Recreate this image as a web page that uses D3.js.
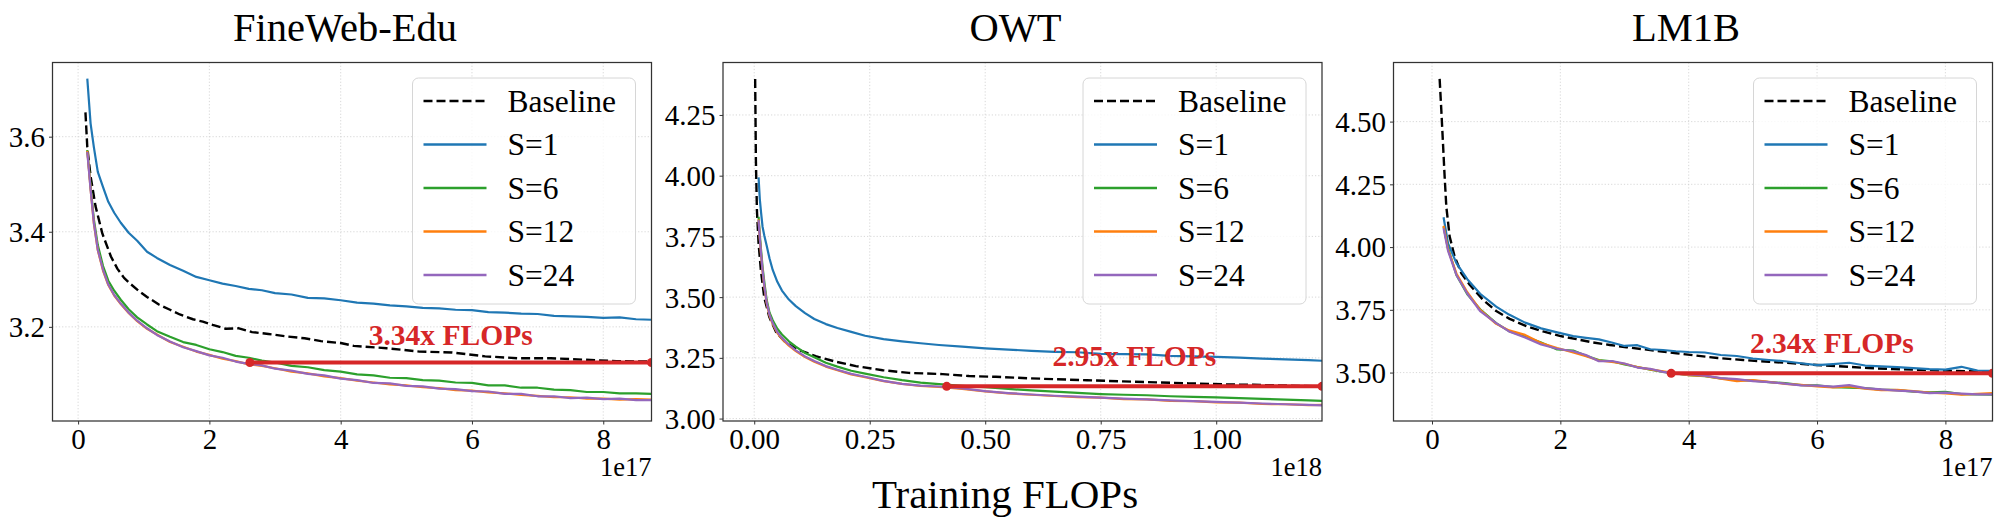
<!DOCTYPE html>
<html>
<head>
<meta charset="utf-8">
<script src="https://cdn.jsdelivr.net/npm/d3@7"></script>
<style>
  html, body { margin: 0; padding: 0; background: #fff; }
  svg { display: block; }
</style>
</head>
<body>
<svg id="chart" width="2000" height="530"></svg>
<script>
// ---------------- DATA ----------------
// FineWeb-Edu (x in units of 1e17 FLOPs)
const fwSX = [0.14,0.19,0.24,0.30,0.38,0.46,0.55,0.65,0.77,0.90,1.05,1.20,1.40,1.60,1.80,2.00,2.20,2.40,2.60,2.80,3.00,3.25,3.50,3.75,4.00,4.25,4.50,4.75,5.00,5.25,5.50,5.75,6.00,6.25,6.50,6.75,7.00,7.25,7.50,7.75,8.00,8.25,8.50,8.735];
const fwS1  = [3.722,3.628,3.578,3.526,3.494,3.463,3.440,3.419,3.398,3.381,3.358,3.345,3.330,3.318,3.305,3.298,3.291,3.286,3.280,3.277,3.271,3.268,3.261,3.260,3.256,3.251,3.249,3.245,3.243,3.240,3.239,3.236,3.235,3.231,3.230,3.228,3.227,3.223,3.222,3.221,3.219,3.220,3.216,3.215];
const fwS6  = [3.572,3.496,3.426,3.372,3.328,3.297,3.276,3.257,3.237,3.220,3.205,3.191,3.179,3.168,3.162,3.153,3.147,3.139,3.135,3.129,3.125,3.118,3.115,3.109,3.106,3.100,3.098,3.093,3.092,3.088,3.087,3.083,3.082,3.077,3.077,3.072,3.072,3.068,3.067,3.063,3.063,3.060,3.060,3.059];
const fwS12 = [3.570,3.490,3.417,3.361,3.318,3.288,3.266,3.248,3.229,3.212,3.196,3.184,3.168,3.158,3.148,3.141,3.133,3.128,3.121,3.118,3.113,3.106,3.102,3.096,3.092,3.087,3.083,3.079,3.077,3.073,3.071,3.067,3.066,3.062,3.060,3.057,3.055,3.052,3.052,3.049,3.049,3.047,3.048,3.047];
const fwS24 = [3.568,3.489,3.419,3.362,3.320,3.289,3.267,3.249,3.230,3.213,3.197,3.183,3.169,3.157,3.149,3.140,3.135,3.127,3.122,3.119,3.112,3.108,3.101,3.098,3.091,3.088,3.082,3.081,3.076,3.075,3.070,3.069,3.065,3.064,3.059,3.059,3.054,3.054,3.050,3.051,3.048,3.049,3.046,3.046];
const fwBaseX = [0.112,0.14,0.19,0.265,0.37,0.50,0.60,0.70,0.80,0.93,1.05,1.23,1.40,1.55,1.75,1.90,2.05,2.25,2.45,2.65,2.90,3.17,3.45,3.70,4.00,4.20,4.70,5.20,5.70,6.20,6.70,7.20,7.70,8.20,8.735];
const fwBaseline = [3.651,3.578,3.517,3.454,3.396,3.348,3.322,3.303,3.290,3.275,3.263,3.247,3.236,3.226,3.216,3.211,3.204,3.196,3.197,3.189,3.185,3.180,3.176,3.170,3.166,3.160,3.155,3.148,3.146,3.138,3.134,3.134,3.131,3.128,3.127];
const fwXTicks = [0,2,4,6,8];
const fwYTicks = [3.2,3.4,3.6];

// OWT (x in units of 1e18 FLOPs)
const owSX = [0.0094,0.012,0.015,0.018,0.022,0.027,0.033,0.040,0.050,0.060,0.075,0.090,0.110,0.130,0.155,0.180,0.210,0.240,0.280,0.320,0.360,0.400,0.450,0.500,0.550,0.600,0.650,0.700,0.750,0.800,0.850,0.900,0.950,1.000,1.050,1.100,1.150,1.200,1.229];
const owS1  = [3.993,3.905,3.845,3.790,3.752,3.712,3.660,3.612,3.563,3.527,3.490,3.463,3.434,3.410,3.389,3.373,3.357,3.341,3.327,3.318,3.310,3.303,3.296,3.289,3.284,3.279,3.275,3.273,3.266,3.265,3.264,3.258,3.256,3.254,3.251,3.247,3.244,3.241,3.238];
const owS6  = [3.831,3.760,3.690,3.625,3.560,3.488,3.437,3.405,3.370,3.346,3.318,3.296,3.270,3.252,3.230,3.214,3.197,3.185,3.170,3.158,3.148,3.142,3.135,3.129,3.122,3.116,3.111,3.106,3.101,3.098,3.096,3.092,3.089,3.087,3.084,3.081,3.078,3.075,3.073];
const owS12 = [3.820,3.742,3.670,3.606,3.540,3.474,3.424,3.389,3.352,3.328,3.300,3.278,3.253,3.234,3.214,3.199,3.182,3.170,3.154,3.143,3.134,3.130,3.122,3.112,3.104,3.098,3.093,3.088,3.086,3.080,3.079,3.073,3.072,3.067,3.066,3.060,3.059,3.055,3.056];
const owS24 = [3.817,3.745,3.675,3.611,3.545,3.478,3.428,3.393,3.356,3.332,3.304,3.281,3.256,3.237,3.216,3.201,3.184,3.172,3.155,3.143,3.136,3.132,3.124,3.113,3.105,3.099,3.094,3.090,3.086,3.082,3.079,3.075,3.072,3.069,3.066,3.062,3.059,3.056,3.054];
const owBaseX = [0.002,0.0036,0.0058,0.0094,0.0144,0.0216,0.0325,0.047,0.0685,0.0974,0.133,0.177,0.220,0.278,0.335,0.408,0.465,0.523,0.581,0.650,0.720,0.798,0.870,0.940,1.015,1.080,1.150,1.229];
const owBaseline = [4.398,4.065,3.858,3.721,3.611,3.500,3.419,3.357,3.312,3.282,3.257,3.234,3.216,3.199,3.188,3.183,3.175,3.172,3.167,3.162,3.158,3.153,3.149,3.145,3.141,3.139,3.136,3.133];
const owXTicks = [0,0.25,0.5,0.75,1.0];
const owYTicks = [3.0,3.25,3.5,3.75,4.0,4.25];

// LM1B (x in units of 1e17 FLOPs)
const lmSX = [0.18,0.25,0.38,0.55,0.75,1.00,1.20,1.45,1.70,1.95,2.20,2.40,2.60,2.80,3.00,3.20,3.40,3.60,3.80,4.00,4.25,4.50,4.75,5.00,5.25,5.50,5.75,6.00,6.25,6.50,6.75,7.00,7.25,7.50,7.75,8.00,8.25,8.50,8.734];
const lmS1  = [4.119,4.015,3.936,3.872,3.814,3.763,3.731,3.699,3.676,3.660,3.645,3.638,3.632,3.620,3.606,3.609,3.593,3.590,3.585,3.582,3.580,3.570,3.566,3.556,3.550,3.545,3.537,3.530,3.534,3.539,3.528,3.525,3.522,3.518,3.514,3.512,3.523,3.508,3.507];
const lmS6  = [4.082,3.995,3.889,3.812,3.752,3.697,3.665,3.644,3.620,3.592,3.588,3.567,3.550,3.545,3.532,3.522,3.512,3.503,3.497,3.490,3.486,3.477,3.471,3.468,3.462,3.458,3.450,3.449,3.442,3.440,3.438,3.432,3.430,3.424,3.421,3.423,3.414,3.413,3.412];
const lmS12 = [4.085,3.990,3.895,3.820,3.750,3.694,3.668,3.650,3.618,3.598,3.580,3.565,3.548,3.542,3.535,3.522,3.513,3.505,3.497,3.490,3.487,3.476,3.466,3.470,3.463,3.455,3.451,3.445,3.441,3.445,3.436,3.430,3.431,3.426,3.420,3.417,3.412,3.415,3.418];
const lmS24 = [4.075,3.985,3.889,3.815,3.745,3.697,3.664,3.640,3.612,3.595,3.585,3.570,3.545,3.546,3.536,3.520,3.515,3.503,3.495,3.493,3.488,3.478,3.474,3.466,3.462,3.456,3.449,3.448,3.444,3.450,3.438,3.433,3.428,3.425,3.418,3.420,3.416,3.413,3.413];
const lmBaseX = [0.119,0.145,0.171,0.197,0.223,0.275,0.353,0.457,0.587,0.795,1.00,1.21,1.47,1.73,1.99,2.25,2.51,2.77,3.03,3.29,3.55,3.81,4.07,4.45,4.85,5.25,5.63,6.00,6.41,6.80,7.19,7.60,7.96,8.35,8.734];
const lmBaseline = [4.670,4.546,4.414,4.280,4.161,4.042,3.962,3.896,3.850,3.790,3.745,3.714,3.685,3.664,3.646,3.633,3.620,3.610,3.601,3.593,3.585,3.577,3.569,3.558,3.550,3.543,3.537,3.530,3.524,3.518,3.514,3.511,3.508,3.505,3.504];
const lmXTicks = [0,2,4,6,8];
const lmYTicks = [3.5,3.75,4.0,4.25,4.5];

// Series names / titles / annotations
const seriesNames = ["Baseline","S=1","S=6","S=12","S=24"];
const panelTitles = ["FineWeb-Edu","OWT","LM1B"];
const offsetLabels = ["1e17","1e18","1e17"];
const xLabel = "Training FLOPs";
// [start x, end x, loss level, text baseline y (data units)]
const ratioLines = [[2.617,8.735,3.125,3.161],[0.4166,1.229,3.1326,3.2164],[3.727,8.734,3.497,3.579]];
const ratioLabels = ["3.34x FLOPs","2.95x FLOPs","2.34x FLOPs"];
const xDomains = [[-0.39,8.735],[-0.0676,1.229],[-0.6,8.734]];
const yDomains = [[3.002,3.756],[2.99,4.466],[3.307,4.7355]];

// ---------------- STYLE ----------------
const FONT = "'Liberation Serif','Times New Roman',Times,serif";
const colors = ["#000000","#1f77b4","#2ca02c","#ff7f0e","#9467bd"];
const RED = "#d62728";

const panels = [
  { xs:[fwBaseX,fwSX,fwSX,fwSX,fwSX], ys:[fwBaseline,fwS1,fwS6,fwS12,fwS24], xTicks:fwXTicks, yTicks:fwYTicks, xFmt:d3.format("d"), yFmt:d3.format(".1f") },
  { xs:[owBaseX,owSX,owSX,owSX,owSX], ys:[owBaseline,owS1,owS6,owS12,owS24], xTicks:owXTicks, yTicks:owYTicks, xFmt:d3.format(".2f"), yFmt:d3.format(".2f") },
  { xs:[lmBaseX,lmSX,lmSX,lmSX,lmSX], ys:[lmBaseline,lmS1,lmS6,lmS12,lmS24], xTicks:lmXTicks, yTicks:lmYTicks, xFmt:d3.format("d"), yFmt:d3.format(".2f") }
];

const svg = d3.select("#chart");
const axW = 599, axTop = 62.5, axBot = 421;
const axLefts = [52.5, 723, 1393.5];

panels.forEach((p, i) => {
  const L = axLefts[i], R = L + axW;
  const x = d3.scaleLinear().domain(xDomains[i]).range([L, R]);
  const y = d3.scaleLinear().domain(yDomains[i]).range([axBot, axTop]);
  const g = svg.append("g");

  // grid
  const grid = g.append("g").attr("stroke", "#b0b0b0").attr("stroke-width", 0.8)
    .attr("stroke-dasharray", "1.2,2").attr("opacity", 0.6);
  p.xTicks.forEach(t => grid.append("line").attr("x1", x(t)).attr("x2", x(t)).attr("y1", axTop).attr("y2", axBot));
  p.yTicks.forEach(t => grid.append("line").attr("x1", L).attr("x2", R).attr("y1", y(t)).attr("y2", y(t)));

  // clip
  const clipId = "clip" + i;
  svg.append("defs").append("clipPath").attr("id", clipId)
    .append("rect").attr("x", L).attr("y", axTop).attr("width", axW).attr("height", axBot - axTop);
  const plot = g.append("g").attr("clip-path", `url(#${clipId})`);

  // series
  p.ys.forEach((vals, k) => {
    const xs = p.xs[k];
    const line = d3.line().x((d, j) => x(xs[j])).y(d => y(d));
    plot.append("path").datum(vals)
      .attr("d", line)
      .attr("fill", "none")
      .attr("stroke", colors[k])
      .attr("stroke-width", k === 0 ? 2.4 : 2.2)
      .attr("stroke-linejoin", "round")
      .attr("stroke-dasharray", k === 0 ? "9,4" : null);
  });

  // ratio line
  const rl = ratioLines[i];
  plot.append("line").attr("x1", x(rl[0])).attr("x2", x(rl[1])).attr("y1", y(rl[2])).attr("y2", y(rl[2]))
    .attr("stroke", RED).attr("stroke-width", 4);
  [rl[0], rl[1]].forEach(v => plot.append("circle").attr("cx", x(v)).attr("cy", y(rl[2])).attr("r", 4.5).attr("fill", RED));
  g.append("text").attr("x", x((rl[0] + rl[1]) / 2)).attr("y", y(rl[3]))
    .attr("text-anchor", "middle").attr("font-family", FONT).attr("font-weight", "bold")
    .attr("font-size", 29.5).attr("fill", RED).text(ratioLabels[i]);

  // spines
  g.append("rect").attr("x", L).attr("y", axTop).attr("width", axW).attr("height", axBot - axTop)
    .attr("fill", "none").attr("stroke", "#333").attr("stroke-width", 1.25);

  // axes
  const gx = g.append("g").attr("transform", `translate(0,${axBot})`)
    .call(d3.axisBottom(x).tickValues(p.xTicks).tickFormat(p.xFmt).tickSizeInner(3.5).tickSizeOuter(0));
  gx.select(".domain").remove();
  gx.attr("font-family", FONT).attr("font-size", 29);
  gx.selectAll(".tick line").attr("stroke", "#333").attr("stroke-width", 1);
  gx.selectAll(".tick text").attr("y", 27.5).attr("dy", "0").attr("fill", "#000");

  const gy = g.append("g").attr("transform", `translate(${L},0)`)
    .call(d3.axisLeft(y).tickValues(p.yTicks).tickFormat(p.yFmt).tickSizeInner(3.5).tickSizeOuter(0));
  gy.select(".domain").remove();
  gy.attr("font-family", FONT).attr("font-size", 29);
  gy.selectAll(".tick line").attr("stroke", "#333").attr("stroke-width", 1);
  gy.selectAll(".tick text").attr("x", -7.5).attr("dy", "0.34em").attr("fill", "#000");

  // offset label
  g.append("text").attr("x", R).attr("y", 476).attr("text-anchor", "end")
    .attr("font-family", FONT).attr("font-size", 26.5).attr("fill", "#000").text(offsetLabels[i]);

  // title
  g.append("text").attr("x", (L + R) / 2 - 7).attr("y", 40.5).attr("text-anchor", "middle")
    .attr("font-family", FONT).attr("font-size", 40.5).attr("fill", "#000").text(panelTitles[i]);

  // legend
  const boxW = 223, boxH = 226;
  const bx = R - 16 - boxW, by = axTop + 15.5;
  const lg = g.append("g");
  lg.append("rect").attr("x", bx).attr("y", by).attr("width", boxW).attr("height", boxH)
    .attr("rx", 6).attr("fill", "#fff").attr("fill-opacity", 0.8).attr("stroke", "#d6d6d6").attr("stroke-width", 1);
  seriesNames.forEach((name, k) => {
    const ry = by + 23 + k * 43.5;
    lg.append("line").attr("x1", bx + 11).attr("x2", bx + 74).attr("y1", ry).attr("y2", ry)
      .attr("stroke", colors[k]).attr("stroke-width", 2.4)
      .attr("stroke-dasharray", k === 0 ? "9,4" : null);
    lg.append("text").attr("x", bx + 95).attr("y", ry + 10.5)
      .attr("font-family", FONT).attr("font-size", 31.5).attr("fill", "#000").text(name);
  });
});

// shared x label
svg.append("text").attr("x", 1005).attr("y", 508).attr("text-anchor", "middle")
  .attr("font-family", FONT).attr("font-size", 41).attr("fill", "#000").text(xLabel);
</script>
</body>
</html>
